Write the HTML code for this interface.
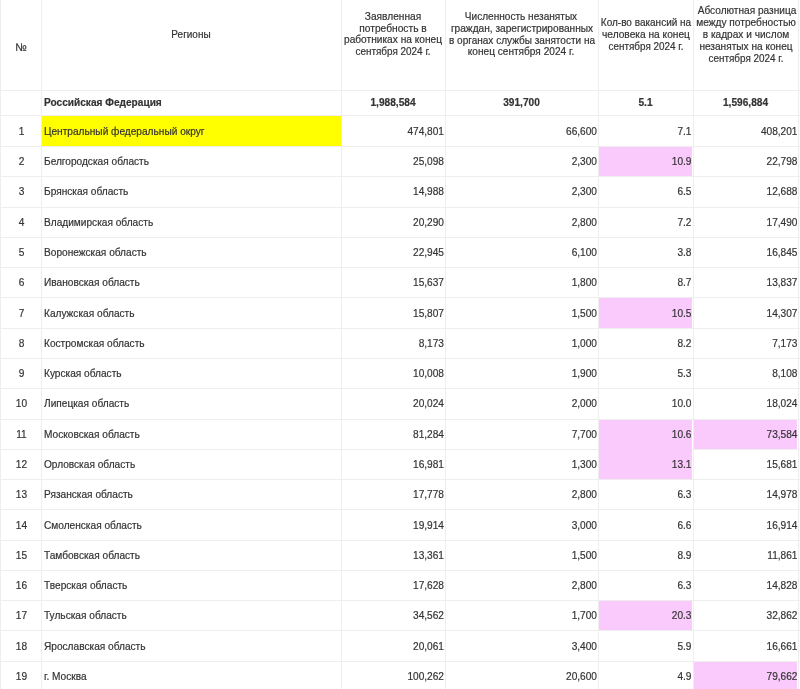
<!DOCTYPE html>
<html lang="ru"><head><meta charset="utf-8"><title>Потребность в работниках</title>
<style>
html,body{margin:0;padding:0;background:#fff;}
body{width:800px;height:689px;overflow:hidden;position:relative;font-family:"Liberation Sans",Arial,sans-serif;font-size:11px;color:#333;}
.g{position:absolute;background:#eeeeee;}
#w{position:absolute;left:0;top:0;width:800px;height:689px;overflow:hidden;filter:blur(0.4px);}
.f{position:absolute;}
.t{position:absolute;white-space:nowrap;line-height:12.15px;transform:scaleX(0.92);transform-origin:0 0;}
.c{text-align:center;transform-origin:50% 0;}
.r{text-align:right;transform-origin:100% 0;}
.b{font-weight:bold;}
.t{-webkit-text-stroke:0.2px #333;}
</style></head><body><div id="w">
<div class="f" style="left:42.00px;top:116.00px;width:298.50px;height:30.00px;background:#ffff00"></div>
<div class="g" style="left:0px;top:0;width:1px;height:689px"></div>
<div class="g" style="left:41px;top:0;width:1px;height:689px"></div>
<div class="g" style="left:341px;top:0;width:1px;height:689px"></div>
<div class="g" style="left:445px;top:0;width:1px;height:689px"></div>
<div class="g" style="left:598px;top:0;width:1px;height:689px"></div>
<div class="g" style="left:693px;top:0;width:1px;height:689px"></div>
<div class="g" style="left:798px;top:0;width:1px;height:689px"></div>
<div class="g" style="left:0;top:90px;width:800px;height:1px"></div>
<div class="g" style="left:0;top:115px;width:800px;height:1px"></div>
<div class="g" style="left:0;top:146px;width:800px;height:1px"></div>
<div class="g" style="left:0;top:176px;width:800px;height:1px"></div>
<div class="g" style="left:0;top:207px;width:800px;height:1px"></div>
<div class="g" style="left:0;top:237px;width:800px;height:1px"></div>
<div class="g" style="left:0;top:267px;width:800px;height:1px"></div>
<div class="g" style="left:0;top:297px;width:800px;height:1px"></div>
<div class="g" style="left:0;top:328px;width:800px;height:1px"></div>
<div class="g" style="left:0;top:358px;width:800px;height:1px"></div>
<div class="g" style="left:0;top:388px;width:800px;height:1px"></div>
<div class="g" style="left:0;top:419px;width:800px;height:1px"></div>
<div class="g" style="left:0;top:449px;width:800px;height:1px"></div>
<div class="g" style="left:0;top:479px;width:800px;height:1px"></div>
<div class="g" style="left:0;top:509px;width:800px;height:1px"></div>
<div class="g" style="left:0;top:540px;width:800px;height:1px"></div>
<div class="g" style="left:0;top:570px;width:800px;height:1px"></div>
<div class="g" style="left:0;top:600px;width:800px;height:1px"></div>
<div class="g" style="left:0;top:630px;width:800px;height:1px"></div>
<div class="g" style="left:0;top:661px;width:800px;height:1px"></div>
<div class="g" style="left:0;top:691px;width:800px;height:1px"></div>
<div class="f" style="left:599.00px;top:147.00px;width:93.00px;height:29.00px;background:#fbcafd"></div>
<div class="f" style="left:599.00px;top:298.00px;width:93.00px;height:30.00px;background:#fbcafd"></div>
<div class="f" style="left:599.00px;top:420.00px;width:93.00px;height:29.00px;background:#fbcafd"></div>
<div class="f" style="left:694.00px;top:420.00px;width:103.00px;height:29.00px;background:#fbcafd"></div>
<div class="f" style="left:599.00px;top:449.00px;width:93.00px;height:30.00px;background:#fbcafd"></div>
<div class="f" style="left:599.00px;top:601.00px;width:93.00px;height:29.00px;background:#fbcafd"></div>
<div class="f" style="left:694.00px;top:662.00px;width:103.00px;height:29.00px;background:#fbcafd"></div>
<div class="t c" style="left:-78.59px;top:40.80px;width:200px;transform:scaleX(0.9800)">№</div>
<div class="t c" style="left:90.95px;top:27.90px;width:200px;transform:scaleX(0.9095)">Регионы</div>
<div class="t c" style="left:293.39px;top:9.60px;width:200px;transform:scaleX(0.9237)">Заявленная</div>
<div class="t c" style="left:292.99px;top:21.50px;width:200px;transform:scaleX(0.9282)">потребность в</div>
<div class="t c" style="left:292.98px;top:33.30px;width:200px;transform:scaleX(0.9229)">работниках на конец</div>
<div class="t c" style="left:293.06px;top:45.40px;width:200px;transform:scaleX(0.9024)">сентября 2024 г.</div>
<div class="t c" style="left:421.16px;top:9.50px;width:200px;transform:scaleX(0.9156)">Численность незанятых</div>
<div class="t c" style="left:421.58px;top:21.50px;width:200px;transform:scaleX(0.9216)">граждан, зарегистрированных</div>
<div class="t c" style="left:421.54px;top:33.50px;width:200px;transform:scaleX(0.9119)">в органах службы занятости на</div>
<div class="t c" style="left:421.19px;top:45.00px;width:200px;transform:scaleX(0.9184)">конец сентября 2024 г.</div>
<div class="t c" style="left:545.67px;top:16.00px;width:200px;transform:scaleX(0.9092)">Кол-во вакансий на</div>
<div class="t c" style="left:545.64px;top:27.90px;width:200px;transform:scaleX(0.9255)">человека на конец</div>
<div class="t c" style="left:545.86px;top:39.80px;width:200px;transform:scaleX(0.9000)">сентября 2024 г.</div>
<div class="t c" style="left:646.72px;top:4.00px;width:200px;transform:scaleX(0.9178)">Абсолютная разница</div>
<div class="t c" style="left:646.29px;top:16.10px;width:200px;transform:scaleX(0.9234)">между потребностью</div>
<div class="t c" style="left:645.73px;top:28.10px;width:200px;transform:scaleX(0.9194)">в кадрах и числом</div>
<div class="t c" style="left:645.79px;top:40.20px;width:200px;transform:scaleX(0.9188)">незанятых на конец</div>
<div class="t c" style="left:646.31px;top:52.20px;width:200px;transform:scaleX(0.9012)">сентября 2024 г.</div>
<div class="t b" style="left:43.80px;top:96.00px;width:290.00px">Российская Федерация</div>
<div class="t c b" style="left:341.00px;top:96.00px;width:104.00px">1,988,584</div>
<div class="t c b" style="left:445.00px;top:96.00px;width:153.00px">391,700</div>
<div class="t c b" style="left:598.00px;top:96.00px;width:95.00px">5.1</div>
<div class="t c b" style="left:693.00px;top:96.00px;width:105.00px">1,596,884</div>
<div class="t c" style="left:0.50px;top:124.95px;width:41.00px">1</div>
<div class="t " style="left:43.80px;top:124.95px;width:290.00px">Центральный федеральный округ</div>
<div class="t r" style="left:341.00px;top:124.95px;width:103.00px">474,801</div>
<div class="t r" style="left:445.00px;top:124.95px;width:152.00px">66,600</div>
<div class="t r" style="left:598.00px;top:124.95px;width:93.50px">7.1</div>
<div class="t r" style="left:693.00px;top:124.95px;width:104.50px">408,201</div>
<div class="t c" style="left:0.50px;top:155.14px;width:41.00px">2</div>
<div class="t " style="left:43.80px;top:155.14px;width:290.00px">Белгородская область</div>
<div class="t r" style="left:341.00px;top:155.14px;width:103.00px">25,098</div>
<div class="t r" style="left:445.00px;top:155.14px;width:152.00px">2,300</div>
<div class="t r" style="left:598.00px;top:155.14px;width:93.50px">10.9</div>
<div class="t r" style="left:693.00px;top:155.14px;width:104.50px">22,798</div>
<div class="t c" style="left:0.50px;top:185.42px;width:41.00px">3</div>
<div class="t " style="left:43.80px;top:185.42px;width:290.00px">Брянская область</div>
<div class="t r" style="left:341.00px;top:185.42px;width:103.00px">14,988</div>
<div class="t r" style="left:445.00px;top:185.42px;width:152.00px">2,300</div>
<div class="t r" style="left:598.00px;top:185.42px;width:93.50px">6.5</div>
<div class="t r" style="left:693.00px;top:185.42px;width:104.50px">12,688</div>
<div class="t c" style="left:0.50px;top:215.70px;width:41.00px">4</div>
<div class="t " style="left:43.80px;top:215.70px;width:290.00px">Владимирская область</div>
<div class="t r" style="left:341.00px;top:215.70px;width:103.00px">20,290</div>
<div class="t r" style="left:445.00px;top:215.70px;width:152.00px">2,800</div>
<div class="t r" style="left:598.00px;top:215.70px;width:93.50px">7.2</div>
<div class="t r" style="left:693.00px;top:215.70px;width:104.50px">17,490</div>
<div class="t c" style="left:0.50px;top:245.98px;width:41.00px">5</div>
<div class="t " style="left:43.80px;top:245.98px;width:290.00px">Воронежская область</div>
<div class="t r" style="left:341.00px;top:245.98px;width:103.00px">22,945</div>
<div class="t r" style="left:445.00px;top:245.98px;width:152.00px">6,100</div>
<div class="t r" style="left:598.00px;top:245.98px;width:93.50px">3.8</div>
<div class="t r" style="left:693.00px;top:245.98px;width:104.50px">16,845</div>
<div class="t c" style="left:0.50px;top:276.26px;width:41.00px">6</div>
<div class="t " style="left:43.80px;top:276.26px;width:290.00px">Ивановская область</div>
<div class="t r" style="left:341.00px;top:276.26px;width:103.00px">15,637</div>
<div class="t r" style="left:445.00px;top:276.26px;width:152.00px">1,800</div>
<div class="t r" style="left:598.00px;top:276.26px;width:93.50px">8.7</div>
<div class="t r" style="left:693.00px;top:276.26px;width:104.50px">13,837</div>
<div class="t c" style="left:0.50px;top:306.54px;width:41.00px">7</div>
<div class="t " style="left:43.80px;top:306.54px;width:290.00px">Калужская область</div>
<div class="t r" style="left:341.00px;top:306.54px;width:103.00px">15,807</div>
<div class="t r" style="left:445.00px;top:306.54px;width:152.00px">1,500</div>
<div class="t r" style="left:598.00px;top:306.54px;width:93.50px">10.5</div>
<div class="t r" style="left:693.00px;top:306.54px;width:104.50px">14,307</div>
<div class="t c" style="left:0.50px;top:336.82px;width:41.00px">8</div>
<div class="t " style="left:43.80px;top:336.82px;width:290.00px">Костромская область</div>
<div class="t r" style="left:341.00px;top:336.82px;width:103.00px">8,173</div>
<div class="t r" style="left:445.00px;top:336.82px;width:152.00px">1,000</div>
<div class="t r" style="left:598.00px;top:336.82px;width:93.50px">8.2</div>
<div class="t r" style="left:693.00px;top:336.82px;width:104.50px">7,173</div>
<div class="t c" style="left:0.50px;top:367.10px;width:41.00px">9</div>
<div class="t " style="left:43.80px;top:367.10px;width:290.00px">Курская область</div>
<div class="t r" style="left:341.00px;top:367.10px;width:103.00px">10,008</div>
<div class="t r" style="left:445.00px;top:367.10px;width:152.00px">1,900</div>
<div class="t r" style="left:598.00px;top:367.10px;width:93.50px">5.3</div>
<div class="t r" style="left:693.00px;top:367.10px;width:104.50px">8,108</div>
<div class="t c" style="left:0.50px;top:397.38px;width:41.00px">10</div>
<div class="t " style="left:43.80px;top:397.38px;width:290.00px">Липецкая область</div>
<div class="t r" style="left:341.00px;top:397.38px;width:103.00px">20,024</div>
<div class="t r" style="left:445.00px;top:397.38px;width:152.00px">2,000</div>
<div class="t r" style="left:598.00px;top:397.38px;width:93.50px">10.0</div>
<div class="t r" style="left:693.00px;top:397.38px;width:104.50px">18,024</div>
<div class="t c" style="left:0.50px;top:427.66px;width:41.00px">11</div>
<div class="t " style="left:43.80px;top:427.66px;width:290.00px">Московская область</div>
<div class="t r" style="left:341.00px;top:427.66px;width:103.00px">81,284</div>
<div class="t r" style="left:445.00px;top:427.66px;width:152.00px">7,700</div>
<div class="t r" style="left:598.00px;top:427.66px;width:93.50px">10.6</div>
<div class="t r" style="left:693.00px;top:427.66px;width:104.50px">73,584</div>
<div class="t c" style="left:0.50px;top:457.94px;width:41.00px">12</div>
<div class="t " style="left:43.80px;top:457.94px;width:290.00px">Орловская область</div>
<div class="t r" style="left:341.00px;top:457.94px;width:103.00px">16,981</div>
<div class="t r" style="left:445.00px;top:457.94px;width:152.00px">1,300</div>
<div class="t r" style="left:598.00px;top:457.94px;width:93.50px">13.1</div>
<div class="t r" style="left:693.00px;top:457.94px;width:104.50px">15,681</div>
<div class="t c" style="left:0.50px;top:488.22px;width:41.00px">13</div>
<div class="t " style="left:43.80px;top:488.22px;width:290.00px">Рязанская область</div>
<div class="t r" style="left:341.00px;top:488.22px;width:103.00px">17,778</div>
<div class="t r" style="left:445.00px;top:488.22px;width:152.00px">2,800</div>
<div class="t r" style="left:598.00px;top:488.22px;width:93.50px">6.3</div>
<div class="t r" style="left:693.00px;top:488.22px;width:104.50px">14,978</div>
<div class="t c" style="left:0.50px;top:518.50px;width:41.00px">14</div>
<div class="t " style="left:43.80px;top:518.50px;width:290.00px">Смоленская область</div>
<div class="t r" style="left:341.00px;top:518.50px;width:103.00px">19,914</div>
<div class="t r" style="left:445.00px;top:518.50px;width:152.00px">3,000</div>
<div class="t r" style="left:598.00px;top:518.50px;width:93.50px">6.6</div>
<div class="t r" style="left:693.00px;top:518.50px;width:104.50px">16,914</div>
<div class="t c" style="left:0.50px;top:548.78px;width:41.00px">15</div>
<div class="t " style="left:43.80px;top:548.78px;width:290.00px">Тамбовская область</div>
<div class="t r" style="left:341.00px;top:548.78px;width:103.00px">13,361</div>
<div class="t r" style="left:445.00px;top:548.78px;width:152.00px">1,500</div>
<div class="t r" style="left:598.00px;top:548.78px;width:93.50px">8.9</div>
<div class="t r" style="left:693.00px;top:548.78px;width:104.50px">11,861</div>
<div class="t c" style="left:0.50px;top:579.06px;width:41.00px">16</div>
<div class="t " style="left:43.80px;top:579.06px;width:290.00px">Тверская область</div>
<div class="t r" style="left:341.00px;top:579.06px;width:103.00px">17,628</div>
<div class="t r" style="left:445.00px;top:579.06px;width:152.00px">2,800</div>
<div class="t r" style="left:598.00px;top:579.06px;width:93.50px">6.3</div>
<div class="t r" style="left:693.00px;top:579.06px;width:104.50px">14,828</div>
<div class="t c" style="left:0.50px;top:609.34px;width:41.00px">17</div>
<div class="t " style="left:43.80px;top:609.34px;width:290.00px">Тульская область</div>
<div class="t r" style="left:341.00px;top:609.34px;width:103.00px">34,562</div>
<div class="t r" style="left:445.00px;top:609.34px;width:152.00px">1,700</div>
<div class="t r" style="left:598.00px;top:609.34px;width:93.50px">20.3</div>
<div class="t r" style="left:693.00px;top:609.34px;width:104.50px">32,862</div>
<div class="t c" style="left:0.50px;top:639.62px;width:41.00px">18</div>
<div class="t " style="left:43.80px;top:639.62px;width:290.00px">Ярославская область</div>
<div class="t r" style="left:341.00px;top:639.62px;width:103.00px">20,061</div>
<div class="t r" style="left:445.00px;top:639.62px;width:152.00px">3,400</div>
<div class="t r" style="left:598.00px;top:639.62px;width:93.50px">5.9</div>
<div class="t r" style="left:693.00px;top:639.62px;width:104.50px">16,661</div>
<div class="t c" style="left:0.50px;top:669.90px;width:41.00px">19</div>
<div class="t " style="left:43.80px;top:669.90px;width:290.00px">г. Москва</div>
<div class="t r" style="left:341.00px;top:669.90px;width:103.00px">100,262</div>
<div class="t r" style="left:445.00px;top:669.90px;width:152.00px">20,600</div>
<div class="t r" style="left:598.00px;top:669.90px;width:93.50px">4.9</div>
<div class="t r" style="left:693.00px;top:669.90px;width:104.50px">79,662</div>
</div></body></html>
